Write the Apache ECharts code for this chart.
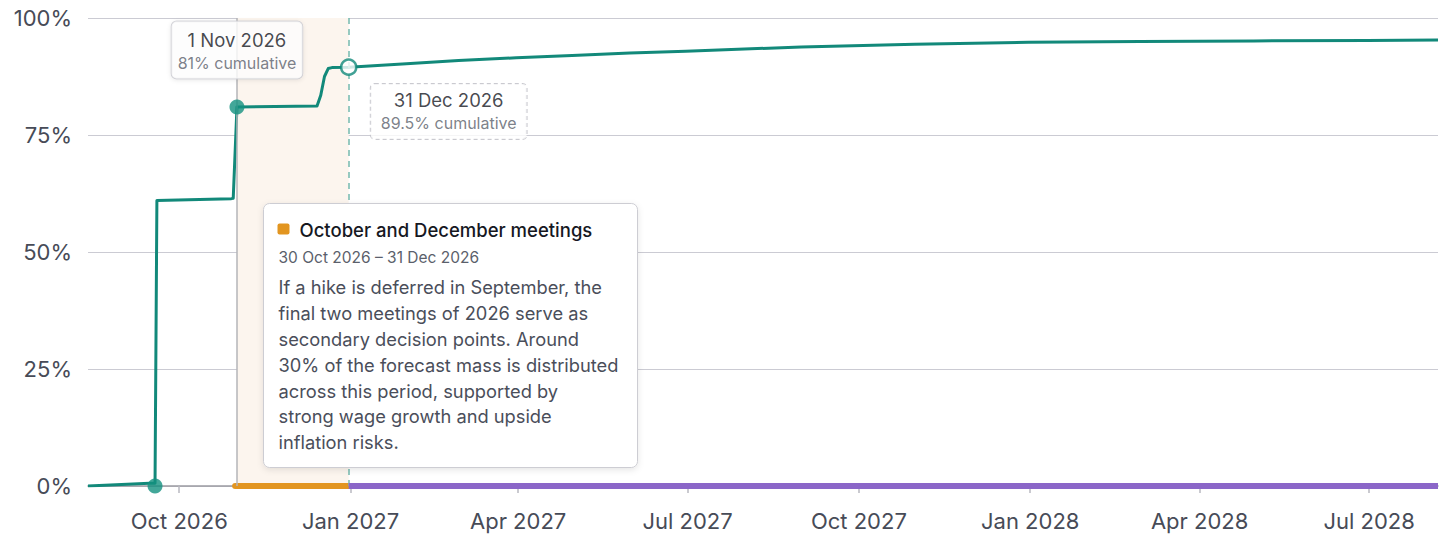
<!DOCTYPE html>
<html>
<head>
<meta charset="utf-8">
<script src="https://cdn.jsdelivr.net/npm/echarts@6/dist/echarts.min.js"></script>
<style>
  html, body { margin: 0; padding: 0; background: #ffffff; }
  #chart { width: 1456px; height: 545px; }
</style>
</head>
<body>
<div id="chart"></div>
<script>
// ---- Data ----
const axisStart = '2026-08-13';
const axisEnd = '2028-08-07';

const lineDates = [
  '2026-08-13', '2026-09-15', '2026-09-18', '2026-09-19',
  '2026-10-29', '2026-10-30', '2026-11-01',
  '2026-12-14', '2026-12-16', '2026-12-18', '2026-12-20', '2026-12-22', '2026-12-31',
  '2027-01-31', '2027-02-28', '2027-03-31', '2027-04-30', '2027-05-31', '2027-06-30',
  '2027-08-31', '2027-10-31', '2027-12-31', '2028-02-29', '2028-04-30', '2028-06-30', '2028-08-07'
];
const lineValues = [
  0, 0.6, 0.6, 61.0,
  61.4, 61.5, 81.0,
  81.2, 83.5, 87.5, 89.2, 89.4, 89.5,
  90.2, 90.9, 91.5, 92.0, 92.5, 92.9,
  93.8, 94.4, 94.8, 95.0, 95.1, 95.2, 95.3
];

const eventDates = ['2026-09-18', '2026-11-01', '2026-12-31'];
const eventValues = [0, 81, 89.5];
const eventTitles = ['', '1 Nov 2026', '31 Dec 2026'];
const eventSubtitles = ['', '81% cumulative', '89.5% cumulative'];

const phaseNames = ['October and December meetings', 'Later meetings'];
const phaseStarts = ['2026-10-31', '2026-12-31'];
const phaseEnds = ['2026-12-31', '2028-08-07'];

const bandStart = '2026-11-01';
const bandEnd = '2026-12-31';

const xTickDates = ['2026-10-01', '2027-01-01', '2027-04-01', '2027-07-01', '2027-10-01', '2028-01-01', '2028-04-01', '2028-07-01'];
const xTickLabels = ['Oct 2026', 'Jan 2027', 'Apr 2027', 'Jul 2027', 'Oct 2027', 'Jan 2028', 'Apr 2028', 'Jul 2028'];
const yTicks = [0, 25, 50, 75, 100];

const tipTitle = 'October and December meetings';
const tipRange = '30 Oct 2026 – 31 Dec 2026';
const tipLines = [
  'If a hike is deferred in September, the',
  'final two meetings of 2026 serve as',
  'secondary decision points. Around',
  '30% of the forecast mass is distributed',
  'across this period, supported by',
  'strong wage growth and upside',
  'inflation risks.'
];

// ---- Chart ----
const FONT = 'Inter, "Noto Sans", sans-serif';
const TEAL = '#12897a';
const toTs = d => Date.parse(d + 'T00:00:00Z');
const xTickTs = xTickDates.map(toTs);

const chart = echarts.init(document.getElementById('chart'), null, { renderer: 'svg' });

const lineData = lineDates.map((d, i) => [toTs(d), lineValues[i]]);

const richStyles = {
  t: { fontFamily: FONT, fontSize: 18.5, color: '#16181f', lineHeight: 24, align: 'center' },
  s: { fontFamily: FONT, fontSize: 16, color: '#5b5f6b', lineHeight: 22, align: 'center' }
};

const eventData = eventDates.map((d, i) => {
  const item = { value: [toTs(d), eventValues[i]], symbolSize: 15 };
  if (i === 0) {
    item.itemStyle = { color: '#14917f', borderWidth: 0 };
    item.label = { show: false };
  } else if (i === 1) {
    item.itemStyle = { color: '#14917f', borderWidth: 0 };
    item.label = {
      show: true, position: 'top', distance: 21,
      formatter: '{t|' + eventTitles[i] + '}\n{s|' + eventSubtitles[i] + '}',
      backgroundColor: '#ffffff', borderColor: '#c9c9cf', borderWidth: 1, borderRadius: 5,
      padding: [7, 6, 4, 6],
      shadowColor: 'rgba(0,0,0,0.10)', shadowBlur: 4, shadowOffsetY: 1,
      rich: richStyles
    };
  } else {
    item.itemStyle = { color: '#ffffff', borderColor: TEAL, borderWidth: 2.5 };
    item.label = {
      show: true, position: 'bottom', distance: 8, offset: [100, 0],
      formatter: '{t|' + eventTitles[i] + '}\n{s|' + eventSubtitles[i] + '}',
      backgroundColor: '#ffffff', borderColor: '#bdbdc4', borderWidth: 1, borderType: [4, 3], borderRadius: 4,
      padding: [4, 10, 5, 10],
      rich: richStyles
    };
  }
  return item;
});

const phaseColors = ['#e29520', '#8b66c8'];
const phaseSeries = phaseNames.map((name, i) => ({
  name: name,
  type: 'line',
  data: [[toTs(phaseStarts[i]), 0], [toTs(phaseEnds[i]), 0]],
  showSymbol: false,
  symbol: 'none',
  silent: true,
  z: 4 + i,
  lineStyle: { color: phaseColors[i], width: 6, cap: i === 0 ? 'round' : 'butt' }
}));

const tipZ = 100;

const option = {
  animation: false,
  backgroundColor: '#ffffff',
  textStyle: { fontFamily: FONT },
  grid: { left: 88, right: 18, top: 18, bottom: 59, containLabel: false, outerBoundsMode: 'none' },
  xAxis: {
    type: 'value',
    min: toTs(axisStart),
    max: toTs(axisEnd),
    axisLine: { show: true, onZero: false, lineStyle: { color: '#9c9ca3', width: 1.5 } },
    axisTick: { show: true, length: 7, customValues: xTickTs, lineStyle: { color: '#b9b9c0', width: 1.5 } },
    axisLabel: {
      customValues: xTickTs,
      margin: 24,
      fontFamily: FONT, fontSize: 22, color: '#474b57',
      formatter: function (v) {
        const idx = xTickTs.findIndex(t => Math.abs(t - v) < 86400000);
        return idx >= 0 ? xTickLabels[idx] : '';
      }
    },
    splitLine: { show: false }
  },
  yAxis: {
    type: 'value',
    min: yTicks[0],
    max: yTicks[yTicks.length - 1],
    interval: 25,
    axisLine: { show: false },
    axisTick: { show: false },
    axisLabel: { margin: 16, fontFamily: FONT, fontSize: 22, color: '#474b57', formatter: '{value}%' },
    splitLine: { lineStyle: { color: '#cbcbd3', width: 1.2 } }
  },
  series: [
    {
      name: 'Cumulative probability',
      type: 'line',
      data: lineData,
      showSymbol: false,
      symbol: 'none',
      z: 3,
      lineStyle: { color: TEAL, width: 3, join: 'round' },
      markArea: {
        silent: true,
        itemStyle: { color: '#fcf5ee' },
        data: [[{ xAxis: toTs(bandStart) }, { xAxis: toTs(bandEnd) }]]
      },
      markLine: {
        silent: true,
        symbol: 'none',
        label: { show: false },
        data: [
          { xAxis: toTs(bandStart), lineStyle: { color: '#b4b4b8', width: 1.5, type: 'solid' } },
          { xAxis: toTs(bandEnd), lineStyle: { color: '#74b9ae', width: 1.5, type: [6, 5] } }
        ]
      }
    },
    ...phaseSeries,
    {
      name: 'Events',
      type: 'scatter',
      data: eventData,
      symbol: 'circle',
      z: 10,
      silent: true
    }
  ],
  graphic: [
    {
      type: 'group',
      left: 263,
      top: 203,
      z: tipZ,
      children: [
        { type: 'rect', z: tipZ, shape: { x: 0, y: 0, width: 374, height: 264, r: 6 },
          style: { fill: '#ffffff', stroke: '#cdcdd3', lineWidth: 1, shadowBlur: 6, shadowColor: 'rgba(0,0,0,0.10)', shadowOffsetY: 2 } },
        { type: 'rect', z: tipZ + 1, shape: { x: 14, y: 20, width: 12, height: 11, r: 2 }, style: { fill: '#e29520' } },
        { type: 'text', z: tipZ + 1, x: 36, y: 26,
          style: { text: tipTitle, fontFamily: FONT, fontSize: 18.5, fontWeight: 500, fill: '#16181f', verticalAlign: 'middle' } },
        { type: 'text', z: tipZ + 1, x: 15, y: 54,
          style: { text: tipRange, fontFamily: FONT, fontSize: 15.5, fill: '#5b5f6b', verticalAlign: 'middle' } },
        { type: 'text', z: tipZ + 1, x: 15, y: 71,
          style: { text: tipLines.join('\n'), fontFamily: FONT, fontSize: 18.3, lineHeight: 25.8, fill: '#4a4e5a', verticalAlign: 'top' } }
      ]
    }
  ]
};

chart.setOption(option);
</script>
</body>
</html>
